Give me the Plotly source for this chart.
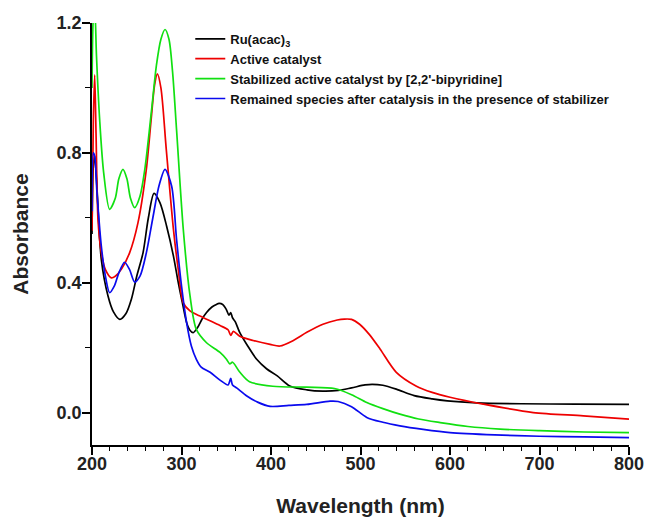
import plotly.graph_objects as go

# ---- data ----
wl_black = [200, 201.5, 203, 205, 210.4, 217.9, 224, 231, 238, 244, 250, 257, 263, 269.3, 276, 283.4, 291, 296.4, 301, 305.7, 309, 313, 318, 323, 328, 334, 339, 342, 346, 350, 353, 355, 357, 360, 365, 374, 384, 395, 407, 421, 440, 458, 475, 490, 505, 513, 525, 540, 560, 580, 597, 630, 680, 740, 800]
ab_black = [0.55, 0.76, 0.79, 0.72, 0.472, 0.359, 0.31, 0.287, 0.305, 0.349, 0.42, 0.492, 0.60, 0.675, 0.646, 0.574, 0.482, 0.40, 0.338, 0.277, 0.255, 0.246, 0.262, 0.288, 0.308, 0.325, 0.333, 0.336, 0.333, 0.318, 0.30, 0.308, 0.292, 0.28, 0.247, 0.205, 0.164, 0.135, 0.113, 0.082, 0.07, 0.066, 0.068, 0.076, 0.085, 0.087, 0.084, 0.072, 0.052, 0.042, 0.036, 0.03, 0.027, 0.026, 0.025]

wl_red = [200, 201.5, 203, 204.5, 206.7, 210, 215, 221.6, 226, 232.7, 242, 251.4, 260.7, 266, 270, 273, 277, 283, 291, 296.4, 302, 309.5, 320, 330, 343, 352, 355, 358, 365, 380, 399, 410, 425, 440, 458, 474, 482, 490, 499, 510, 522, 540, 562, 580, 600, 637, 693, 749, 800]
ab_red = [0.56, 0.9, 1.04, 0.86, 0.595, 0.5, 0.44, 0.415, 0.42, 0.441, 0.492, 0.585, 0.749, 0.9, 1.01, 1.043, 1.0, 0.81, 0.564, 0.44, 0.338, 0.313, 0.298, 0.285, 0.268, 0.255, 0.238, 0.25, 0.235, 0.222, 0.21, 0.205, 0.222, 0.247, 0.272, 0.285, 0.288, 0.287, 0.272, 0.24, 0.195, 0.124, 0.082, 0.062, 0.047, 0.026, 0.0, -0.01, -0.02]

wl_green = [200, 201.5, 203, 205, 208.6, 213, 219.7, 226, 230, 234.6, 239, 243, 247.7, 253.6, 259, 266.6, 272, 277, 281.6, 286, 290, 294.5, 302, 309.5, 316.6, 328, 343, 350, 354, 357, 365, 376, 402, 440, 471, 490, 507, 525, 544, 565, 589, 620, 656, 700, 750, 800]
ab_green = [1.0, 1.22, 1.25, 1.1, 0.9, 0.74, 0.626, 0.66, 0.72, 0.749, 0.72, 0.66, 0.631, 0.666, 0.749, 0.933, 1.07, 1.15, 1.18, 1.15, 1.05, 0.87, 0.564, 0.36, 0.256, 0.215, 0.185, 0.165, 0.15, 0.155, 0.125, 0.095, 0.081, 0.078, 0.074, 0.055, 0.031, 0.012, -0.005, -0.02, -0.031, -0.043, -0.051, -0.056, -0.06, -0.062]

wl_blue = [200, 201.5, 203, 205.5, 210.4, 215, 219.7, 225, 230, 236.4, 242, 247.7, 253.6, 260.7, 268, 275, 281.6, 289, 294.5, 300, 305.7, 311, 316.6, 322, 332, 343, 352, 355, 357, 362, 373, 385, 399, 420, 440, 466, 475, 490, 507, 525, 544, 570, 600, 650, 700, 750, 800]
ab_blue = [0.62, 0.80, 0.79, 0.68, 0.513, 0.42, 0.369, 0.39, 0.43, 0.463, 0.44, 0.402, 0.42, 0.492, 0.6, 0.7, 0.749, 0.697, 0.533, 0.39, 0.277, 0.205, 0.164, 0.14, 0.124, 0.1, 0.085, 0.105, 0.085, 0.075, 0.051, 0.032, 0.019, 0.022, 0.025, 0.035, 0.034, 0.018, -0.015, -0.03, -0.041, -0.052, -0.062, -0.069, -0.073, -0.075, -0.077]

names = ["Ru(acac)<sub>3</sub>", "Active catalyst",
         "Stabilized active catalyst by [2,2'-bipyridine]",
         "Remained species after catalysis in the presence of stabilizer"]
colors = ["#000000", "#ee0000", "#11e011", "#0a0aee"]

FONT = "Arial, Liberation Sans, Helvetica, sans-serif"

fig = go.Figure()
for x, y, n, c in zip([wl_black, wl_red, wl_green, wl_blue],
                      [ab_black, ab_red, ab_green, ab_blue], names, colors):
    fig.add_trace(go.Scatter(x=x, y=y, name=n, mode="lines",
                             line=dict(color=c, width=1.7, shape="spline", smoothing=0.8)))

axis_common = dict(showline=True, linecolor="black", linewidth=1.6,
                   ticks="outside", tickcolor="black", tickwidth=1.5, ticklen=8,
                   showgrid=False, zeroline=False, mirror=False, automargin=False,
                   tickfont=dict(family=FONT, size=18, color="#222", weight="bold"))

fig.update_layout(
    width=645, height=517,
    margin=dict(l=92, r=16, t=23, b=72),
    paper_bgcolor="white", plot_bgcolor="white",
    showlegend=True,
    legend=dict(x=0.183, y=0.998, xanchor="left", yanchor="top",
                bgcolor="rgba(0,0,0,0)", borderwidth=0,
                font=dict(family=FONT, size=13, color="#111", weight="bold"),
                tracegroupgap=0, itemwidth=30),
    xaxis=dict(range=[200, 800], dtick=100, tick0=200, ticklabelstandoff=-6,
               minor=dict(dtick=20, ticklen=4, tickcolor="black", tickwidth=1.2, ticks="outside"),
               title=dict(text="Wavelength (nm)", standoff=27,
                          font=dict(family=FONT, size=21, color="#222", weight="bold")),
               **axis_common),
    yaxis=dict(range=[-0.1, 1.2], dtick=0.4, tick0=0, tickformat=".1f", ticklabelstandoff=-3,
               minor=dict(dtick=0.2, ticklen=5, tickcolor="black", tickwidth=1.2, ticks="outside"),
               title=dict(text="Absorbance", standoff=22,
                          font=dict(family=FONT, size=21, color="#222", weight="bold")),
               **axis_common),
)

# remove the default page margin so the 645x517 figure fills the window exactly
fig.write_html("out.html", config={"displayModeBar": False},
               post_script="document.body.style.margin='0';document.body.style.overflow='hidden';")
